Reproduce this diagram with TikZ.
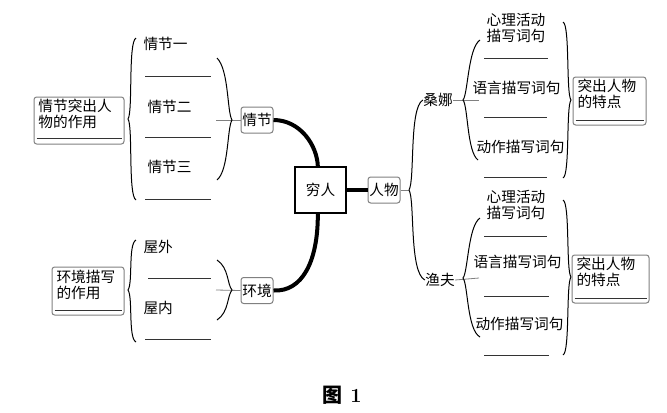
\documentclass[tikz,border=0pt]{standalone}
\usepackage{fontspec}
\newfontfamily\cjk{Noto Sans CJK SC}
\tikzset{every picture/.style={line width=0.75pt}}
\tikzset{
  txt/.style={font=\cjk\fontsize{11}{12}\selectfont, inner sep=0pt},
  mainbox/.style={txt, draw, line width=1.2pt, minimum width=38pt, minimum height=34.5pt},
  keybox/.style={txt, draw=gray, rounded corners=2pt, inner xsep=1pt, minimum width=24pt, minimum height=19.5pt},
  effbox/.style={draw=gray, rounded corners=2pt, inner sep=0pt},
  blank/.style={draw=black!80, line width=0.6pt},
  link/.style={draw=gray, line width=0.6pt}
}

\begin{document}
\begin{tikzpicture}[x=0.75pt,y=0.75pt,yscale=-1,xscale=1]
\useasboundingbox (0,0) rectangle (667,412);

% Main nodes
\node[mainbox] (qiongren) at (320.5,190) {穷人};
\node[keybox] (qingjie) at (257,120) {情节};
\node[keybox] (huanjing) at (257,290.5) {环境};
\node[keybox] (renwu) at (384,190) {人物};

%Curve Lines [thick]
\draw [line width=3] (qingjie.east) .. controls (300,120) and (317,145) .. ([xshift=-2pt]qiongren.north) ;
\draw [line width=3] ([xshift=-2pt]qiongren.south) .. controls (318,262) and (302,292) .. (huanjing.east) ;
\draw [line width=3] (qiongren.east) -- (renwu.west) ;

%%%% 情节
\coordinate (qjtip) at (216,120);
\draw [link] (qjtip) -- (qingjie.west) ;
%Shape: Brace
\draw (217,58) .. controls (229,70) and (227,112) .. (232,120) .. controls (227,128) and (229,170) .. (217,180) ;
% Text Node
\node[txt, anchor=west] (qj1) at (143,44) {情节一};
\node[txt, anchor=west] (qj2) at (147,107) {情节二};
\node[txt, anchor=west] (qj3) at (147,167) {情节三};
%Straight Lines
\draw [blank] (145,76) -- (211,76) ;
\draw [blank] (145,137) -- (211,137) ;
\draw [blank] (145,199) -- (211,199) ;
%Shape: Brace
\draw (136,38) .. controls (128,42) and (133,112) .. (128,119) .. controls (133,126) and (128,196) .. (136,200) ;
%Shape: Box
\node[effbox, minimum width=67.5pt, minimum height=35.25pt] (qjeff) at (79,120.5) {};
\node[txt, anchor=north west, align=left] (qjefftext) at (38,99) {情节突出人\\物的作用};
\draw [blank] ([shift={(3,-6)}]qjeff.south west) -- ([shift={(-3,-6)}]qjeff.south east) ;

%%%% 环境
\coordinate (hjtip) at (216,290);
\draw [link] (hjtip) -- (huanjing.west) ;
%Shape: Brace
\draw (217,260) .. controls (229,268) and (227,284) .. (232,290) .. controls (227,296) and (229,312) .. (217,320) ;
% Text Node
\node[txt, anchor=west] (hj1) at (143,247) {屋外};
\node[txt, anchor=west] (hj2) at (143,308) {屋内};
%Straight Lines
\draw [blank] (148,278) -- (211,278) ;
\draw [blank] (145,339) -- (211,339) ;
%Shape: Brace
\draw (136,240) .. controls (128,244) and (133,283) .. (128,290) .. controls (133,297) and (128,338) .. (136,342) ;
%Shape: Box
\node[effbox, minimum width=54pt, minimum height=36pt] (hjeff) at (88,291) {};
\node[txt, anchor=north west, align=left] (hjefftext) at (56,270) {环境描写\\的作用};
\draw [blank] ([shift={(3,-5)}]hjeff.south west) -- ([shift={(-3,-5)}]hjeff.south east) ;

%%%% 人物
\node[txt] (sangna) at (438,100) {桑娜};
\node[txt] (yufu) at (440,280) {渔夫};
\coordinate (rwtip) at (409,190);
\draw [link] (renwu.east) -- (rwtip) ;
\draw (rwtip) .. controls (415,180) and (409,108) .. (sangna.west) ;
\draw (rwtip) .. controls (415,200) and (409,272) .. (yufu.west) ;

% 桑娜
\coordinate (sntip) at (479,100);
\draw [link] (sangna.east) -- (sntip) ;
%Shape: Brace
\draw (480,40) .. controls (468,48) and (468,94) .. (463,100) .. controls (468,106) and (467,152) .. (478,160) ;
% Text Node
\node[txt, align=center] (sn1) at (516,28) {心理活动\\描写词句};
\node[txt, anchor=west] (sn2) at (472,88) {语言描写词句};
\node[txt, anchor=west] (sn3) at (476,147) {动作描写词句};
%Straight Lines
\draw [blank] (484,58) -- (548,58) ;
\draw [blank] (484,117) -- (547,117) ;
\draw [blank] (484,177) -- (547,177) ;
%Shape: Brace
\draw (563,22) .. controls (570,25) and (566,94) .. (571,100) .. controls (566,106) and (570,175) .. (563,178) ;
%Shape: Box
\node[effbox, minimum width=54.75pt, minimum height=36pt] (sneff) at (609.5,101) {};
\node[txt, anchor=north west, align=left] (snefftext) at (577,79) {突出人物\\的特点};
\draw [blank] ([shift={(3,-5)}]sneff.south west) -- ([shift={(-3,-5)}]sneff.south east) ;

% 渔夫
\coordinate (yftip) at (479,278);
\draw [link] (yufu.east) -- (yftip) ;
%Shape: Brace
\draw (480,218) .. controls (468,226) and (468,272) .. (463,278) .. controls (468,284) and (467,330) .. (480,337) ;
% Text Node
\node[txt, align=center] (yf1) at (516,204.5) {心理活动\\描写词句};
\node[txt, anchor=west] (yf2) at (473,262) {语言描写词句};
\node[txt, anchor=west] (yf3) at (475,324) {动作描写词句};
%Straight Lines
\draw [blank] (484,236) -- (547,236) ;
\draw [blank] (484,296) -- (549,296) ;
\draw [blank] (484,355) -- (549,355) ;
%Shape: Brace
\draw (563,200) .. controls (570,203) and (566,271) .. (571,277) .. controls (566,283) and (570,352) .. (563,355) ;
%Shape: Box
\node[effbox, minimum width=57.75pt, minimum height=36pt] (yfeff) at (610.5,279) {};
\node[txt, anchor=north west, align=left] (yfefftext) at (576,257) {突出人物\\的特点};
\draw [blank] ([shift={(3,-5)}]yfeff.south west) -- ([shift={(-3,-5)}]yfeff.south east) ;

% Caption
\node[font=\fontsize{15}{16}\selectfont\bfseries, inner sep=0pt] (caption) at (342,395) {{\cjk 图}\hspace{6pt}1};

\end{tikzpicture}
\end{document}
